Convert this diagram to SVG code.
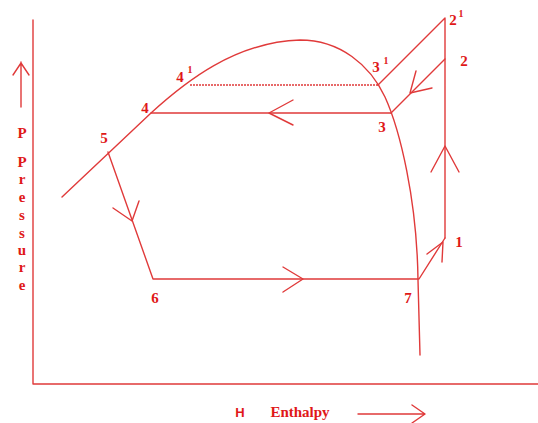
<svg xmlns="http://www.w3.org/2000/svg" width="538" height="423" viewBox="0 0 538 423">
<style>
.l{fill:none;stroke:#e03a3a;stroke-width:1.4;stroke-linecap:round;stroke-linejoin:round}
.d{fill:none;stroke:#e03a3a;stroke-width:1.4;stroke-dasharray:2 1}
.t{font-family:"Liberation Serif",serif;font-weight:bold;font-size:15px;fill:#e01818;text-anchor:middle}
.s{font-size:10px}
</style>
<rect width="538" height="423" fill="#fff"/>
<g id="axes">
<path class="l" d="M33,20 V384 H538"/>
<path class="l" d="M21,107 V62 M13,75 L21,63 L29,75"/>
<path class="l" d="M358,414 H425 M412,405 L425,414 L412,423"/>
</g>
<g id="axis-labels">
<text class="t" x="22" y="138">P</text>
<text class="t" x="22" y="167">P</text>
<text class="t" x="22" y="184">r</text>
<text class="t" x="22" y="202">e</text>
<text class="t" x="22" y="220">s</text>
<text class="t" x="22" y="238">s</text>
<text class="t" x="22" y="255">u</text>
<text class="t" x="22" y="272">r</text>
<text class="t" x="22" y="290">e</text>
<text x="240" y="417" style="font-family:'Liberation Sans',sans-serif;font-weight:bold;font-size:13px;fill:#e01818;text-anchor:middle">H</text>
<text class="t" x="300" y="417">Enthalpy</text>
</g>
<g id="dome">
<path class="l" d="M62,197 L151,113 C185,82 235,42 300,40 C340,40 370,65 385,97 C400,130 417,200 418,280 L420,355"/>
</g>
<g id="connectors">
<path class="l" d="M151,113 H391"/>
<path class="l" d="M293,100 L269,113 L293,125"/>
<path class="d" d="M190,85 H378"/>
<path class="l" d="M378,85 L445,18 V238"/>
<path class="l" d="M431,172 L445,146 L459,172"/>
<path class="l" d="M445,59 L391,113"/>
<path class="l" d="M416,71 L410,93 L432,88"/>
<path class="l" d="M108,152 L153,279 H419 L445,238"/>
<path class="l" d="M113,208 L132,221 L139,201"/>
<path class="l" d="M283,267 L303,279 L283,292"/>
<path class="l" d="M427,254 L443,242 L442,262"/>
</g>
<g id="point-labels">
<text class="t" x="104" y="143">5</text>
<text class="t" x="145" y="113">4</text>
<text class="t" x="180" y="82">4</text><text class="t s" x="190" y="73">1</text>
<text class="t" x="376" y="72">3</text><text class="t s" x="386" y="64">1</text>
<text class="t" x="382" y="132">3</text>
<text class="t" x="453" y="25">2</text><text class="t s" x="461" y="17">1</text>
<text class="t" x="464" y="66">2</text>
<text class="t" x="459" y="247">1</text>
<text class="t" x="408" y="303">7</text>
<text class="t" x="155" y="303">6</text>
</g>
</svg>
